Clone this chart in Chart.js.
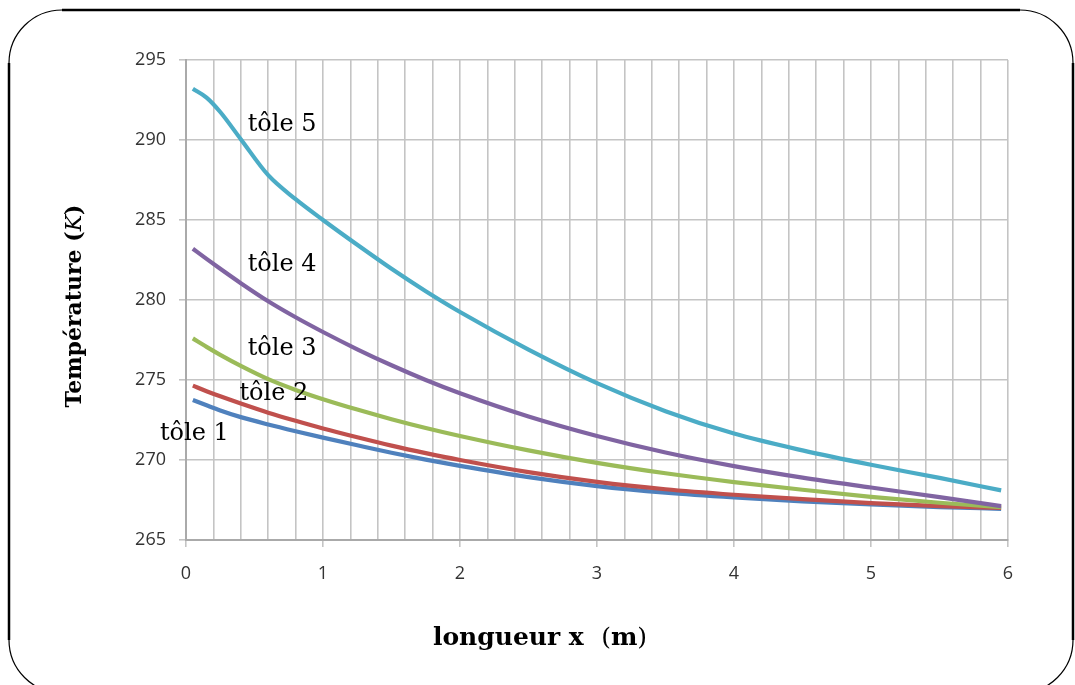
<!DOCTYPE html>
<html>
<head>
<meta charset="utf-8">
<script src="https://cdn.jsdelivr.net/npm/chart.js@4.4.1/dist/chart.umd.min.js"></script>
<style>
  html, body { margin: 0; padding: 0; background: #ffffff; }
  #wrap { width: 1075px; height: 685px; position: relative; }
</style>
</head>
<body>
<div id="wrap"><canvas id="c" width="1075" height="685"></canvas></div>
<script>
// ---- data ----
const xValues = [0.05, 0.15, 0.25, 0.4, 0.6, 0.8, 1, 1.25, 1.5, 1.75, 2, 2.5, 3, 3.5, 4, 4.5, 5, 5.5, 5.95];
const tole1 = [273.75, 273.42, 273.1, 272.68, 272.22, 271.8, 271.4, 270.92, 270.45, 270.02, 269.63, 268.93, 268.37, 267.96, 267.66, 267.42, 267.22, 267.06, 266.95];
const tole2 = [274.65, 274.3, 273.98, 273.53, 272.96, 272.45, 271.97, 271.42, 270.9, 270.43, 270.0, 269.24, 268.63, 268.17, 267.83, 267.55, 267.31, 267.12, 267.0];
const tole3 = [277.6, 277.07, 276.57, 275.88, 275.05, 274.38, 273.8, 273.15, 272.55, 272.0, 271.5, 270.6, 269.82, 269.17, 268.62, 268.14, 267.7, 267.33, 267.05];
const tole4 = [283.2, 282.57, 281.95, 281.05, 279.92, 278.92, 278.0, 276.92, 275.92, 275.0, 274.17, 272.72, 271.5, 270.47, 269.62, 268.9, 268.28, 267.68, 267.12];
const tole5 = [293.2, 292.65, 291.75, 290.05, 287.8, 286.3, 285.0, 283.45, 281.95, 280.55, 279.25, 276.9, 274.8, 273.05, 271.65, 270.6, 269.7, 268.88, 268.1];
const seriesNames = ['tôle 1', 'tôle 2', 'tôle 3', 'tôle 4', 'tôle 5'];
const seriesValues = [tole1, tole2, tole3, tole4, tole5];
const seriesColors = ['#4F81BD', '#C0504D', '#9BBB59', '#8064A2', '#4BACC6'];
// label anchors (data units: x, temperature at text baseline)
const labelX = [-0.19, 0.39, 0.45, 0.45, 0.45];
const labelY = [271.25, 273.75, 276.56, 281.81, 290.56];
const yTicks = [265, 270, 275, 280, 285, 290, 295];
const xTicks = [0, 1, 2, 3, 4, 5, 6];

const GRID = '#c4c4c4';
const isInt = v => Math.abs(v - Math.round(v)) < 1e-6;

const framePlugin = {
  id: 'frame',
  beforeDraw(chart) {
    const ctx = chart.ctx;
    ctx.save();
    ctx.fillStyle = '#ffffff';
    ctx.fillRect(0, 0, chart.width, chart.height);
    ctx.restore();
  },
  afterDraw(chart) {
    const ctx = chart.ctx;
    const L = 9, R = 1073, T = 10, B = 640, r = 53;
    ctx.save();
    ctx.strokeStyle = '#000';
    ctx.lineWidth = 2.5;
    ctx.beginPath();
    ctx.moveTo(L + r, T); ctx.lineTo(R - r, T);
    ctx.moveTo(L, T + r); ctx.lineTo(L, B);
    ctx.moveTo(R, T + r); ctx.lineTo(R, B);
    ctx.stroke();
    ctx.lineWidth = 1.2;
    ctx.beginPath();
    ctx.arc(L + r, T + r, r, Math.PI, 1.5 * Math.PI); ctx.stroke();
    ctx.beginPath();
    ctx.arc(R - r, T + r, r, 1.5 * Math.PI, 2 * Math.PI); ctx.stroke();
    ctx.beginPath();
    ctx.arc(L + r, B, r, 0.5 * Math.PI, Math.PI); ctx.stroke();
    ctx.beginPath();
    ctx.arc(R - r, B, r, 0, 0.5 * Math.PI); ctx.stroke();

    const xs = chart.scales.x, ys = chart.scales.y;
    ctx.fillStyle = '#000';
    ctx.font = '24px "DejaVu Serif"';
    ctx.textAlign = 'left';
    ctx.textBaseline = 'alphabetic';
    seriesNames.forEach((n, i) => {
      ctx.fillText(n, xs.getPixelForValue(labelX[i]), ys.getPixelForValue(labelY[i]));
    });

    const drawParts = (parts, cx, cy) => {
      let total = 0;
      parts.forEach(p => { ctx.font = p[1]; total += ctx.measureText(p[0]).width; });
      let x = cx - total / 2;
      parts.forEach(p => { ctx.font = p[1]; ctx.fillText(p[0], x, cy); x += ctx.measureText(p[0]).width; });
    };
    drawParts([
      ['longueur x  ', 'bold 25px "DejaVu Serif"'],
      ['(', '25px "DejaVu Serif"'],
      ['m', 'bold 25px "DejaVu Serif"'],
      [')', '25px "DejaVu Serif"']
    ], 540, 645);

    ctx.save();
    ctx.translate(81, 306);
    ctx.rotate(-Math.PI / 2);
    drawParts([
      ['Température (', 'bold 22px "DejaVu Serif"'],
      ['K', 'italic 22px "DejaVu Serif"'],
      [')', 'bold 22px "DejaVu Serif"']
    ], 0, 0);
    ctx.restore();
    ctx.restore();
  }
};

const datasets = seriesNames.map((name, i) => ({
  label: name,
  data: xValues.map((x, j) => ({ x: x, y: seriesValues[i][j] })),
  borderColor: seriesColors[i],
  backgroundColor: seriesColors[i],
  borderWidth: 4.2,
  pointRadius: 0,
  fill: false,
  cubicInterpolationMode: 'monotone',
  order: seriesNames.length - i
}));

new Chart(document.getElementById('c'), {
  type: 'line',
  data: { datasets },
  options: {
    responsive: false,
    animation: false,
    layout: { padding: { left: 0, right: 67, top: 60, bottom: 0 } },
    plugins: { legend: { display: false }, tooltip: { enabled: false }, title: { display: false } },
    scales: {
      x: {
        type: 'linear',
        min: 0, max: 6,
        afterFit: s => { s.height = 145; },
        afterBuildTicks: s => {
          const t = [];
          for (let k = 0; k <= 30; k++) t.push({ value: Math.round(k * 0.2 * 1000) / 1000 });
          s.ticks = t;
        },
        ticks: {
          autoSkip: false, maxRotation: 0, minRotation: 0,
          padding: 16,
          color: '#333',
          font: { family: '"Open Sans"', size: 18 },
          callback: v => (isInt(v) && xTicks.includes(Math.round(v))) ? String(Math.round(v)) : ''
        },
        grid: {
          color: GRID, lineWidth: 1.6, tickLength: 7,
          tickColor: c => (c.tick && isInt(c.tick.value)) ? GRID : 'rgba(0,0,0,0)'
        },
        border: { color: '#aaaaaa', width: 2 }
      },
      y: {
        min: 265, max: 295,
        afterFit: s => { s.width = 186; },
        afterBuildTicks: s => { s.ticks = yTicks.map(v => ({ value: v })); },
        ticks: {
          padding: 13,
          color: '#333',
          font: { family: '"Open Sans"', size: 18 }
        },
        grid: { color: GRID, lineWidth: 1.6, tickLength: 7, tickColor: GRID },
        border: { color: '#aaaaaa', width: 2 }
      }
    }
  },
  plugins: [framePlugin]
});
</script>
</body>
</html>
